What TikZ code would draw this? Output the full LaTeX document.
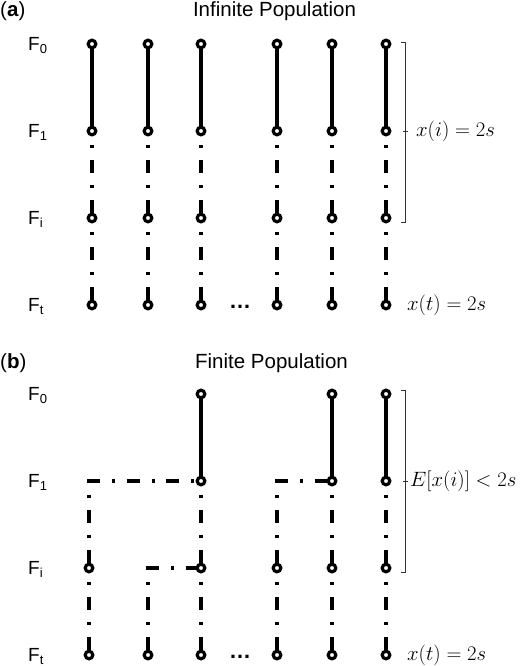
\documentclass[tikz,border=0pt]{standalone}
\usepackage[no-math]{fontspec}
\setmainfont{Liberation Sans}
\newcommand\gensub[1]{\raisebox{-3pt}{\fontsize{13}{13}\selectfont #1}}
\begin{document}
\begin{tikzpicture}[x=1pt,y=-1pt,
  gen/.style={circle,draw=black,fill=white,line width=3.2pt,inner sep=0pt,minimum size=7.6pt},
  solidlink/.style={line width=3.2pt},
  ddlink/.style={line width=3.2pt,dash pattern=on 13pt off 12pt on 3pt off 11.7pt},
  lab/.style={anchor=base west,inner sep=0pt,font=\fontsize{19}{19}\selectfont},
  ttl/.style={anchor=base,inner sep=0pt,font=\fontsize{20.5}{20.5}\selectfont},
  panel/.style={anchor=base west,inner sep=0pt,font=\fontsize{20.5}{20.5}\selectfont},
  eq/.style={anchor=west,inner sep=0pt,font=\fontsize{20.5}{20.5}\selectfont},
  ell/.style={anchor=base,inner sep=0pt,font=\fontsize{22}{22}\selectfont\bfseries},
  brk/.style={line width=0.8pt,draw=black!80}
]
\useasboundingbox (0,0) rectangle (520,666);

% ---------- panel (a) ----------
\node[panel] (pa) at (0,17) {(\textbf{a})};
\node[ttl] (ta) at (274.5,17) {Infinite Population};
\node[lab] (la0) at (28,50.8) {F\gensub{0}};
\node[lab] (la1) at (28,137.8) {F\gensub{1}};
\node[lab] (lai) at (28,224.8) {F\gensub{i}};
\node[lab] (lat) at (28,311.8) {F\gensub{t}};

\foreach \c/\x in {1/92,2/148,3/201,4/277,5/332,6/386} {
  \node[gen] (a\c0) at (\x,44) {};
  \node[gen] (a\c1) at (\x,131) {};
  \node[gen] (a\c i) at (\x,218) {};
  \node[gen] (a\c t) at (\x,305) {};
  \draw[solidlink] (a\c0) -- (a\c1);
  \draw[ddlink] (a\c i) -- (a\c1);
  \draw[ddlink] (a\c t) -- (a\c i);
}
\node[ell] (ella) at (240,308) {…};

\draw[brk] (401,42) -- (405,42) -- (405,222) -- (401,222);
\draw[brk] (402.5,131) -- (407.5,131);
\node[eq] (eqa1) at (416,131) {$x(i) = 2s$};
\node[eq] (eqa2) at (407,305) {$x(t) = 2s$};

% ---------- panel (b) ----------
\node[panel] (pb) at (0,368) {(\textbf{b})};
\node[ttl] (tb) at (271.5,368) {Finite Population};
\node[lab] (lb0) at (28,400.8) {F\gensub{0}};
\node[lab] (lb1) at (28,487.8) {F\gensub{1}};
\node[lab] (lbi) at (28,574.8) {F\gensub{i}};
\node[lab] (lbt) at (28,661.8) {F\gensub{t}};

\foreach \c/\x in {3/201,5/332,6/386} {
  \node[gen] (b\c0) at (\x,394) {};
  \node[gen] (b\c1) at (\x,481) {};
  \draw[solidlink] (b\c0) -- (b\c1);
}
\foreach \c/\x in {1/89,3/201,4/277,5/332,6/386} {
  \node[gen] (b\c i) at (\x,568) {};
}
\foreach \c/\x in {1/89,2/148,3/201,4/277,5/332,6/386} {
  \node[gen] (b\c t) at (\x,655) {};
}
\draw[ddlink] (b1i) |- (b31);
\draw[ddlink] (b4i) |- (b51);
\draw[ddlink] (b3i) -- (b31);
\draw[ddlink] (b5i) -- (b51);
\draw[ddlink] (b6i) -- (b61);
\draw[ddlink] (b2t) |- (b3i);
\foreach \c in {1,3,4,5,6} {
  \draw[ddlink] (b\c t) -- (b\c i);
}
\node[ell] (ellb) at (240,658) {…};

\draw[brk] (401,390) -- (405,390) -- (405,572) -- (401,572);
\draw[brk] (402.5,481) -- (407.5,481);
\node[eq] (eqb1) at (410,481) {$E[x(i)] < 2s$};
\node[eq] (eqb2) at (407,655) {$x(t) = 2s$};
\end{tikzpicture}
\end{document}
